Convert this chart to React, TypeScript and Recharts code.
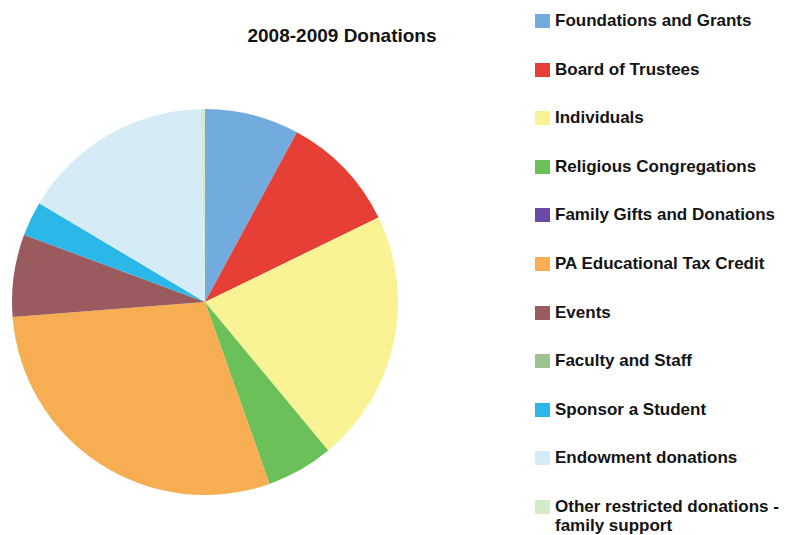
import { PieChart, Pie, Cell, Legend } from 'recharts';

const categories = [
  'Foundations and Grants',
  'Board of Trustees',
  'Individuals',
  'Religious Congregations',
  'Family Gifts and Donations',
  'PA Educational Tax Credit',
  'Events',
  'Faculty and Staff',
  'Sponsor a Student',
  'Endowment donations',
  'Other restricted donations - family support',
];

// share of total donations (%)
const shares = [7.9, 9.9, 21.2, 5.6, 0, 29.2, 6.9, 0, 2.9, 16.1, 0.35];

const colors = [
  '#72acdf',
  '#e63f35',
  '#faf396',
  '#6cc05a',
  '#6a4aa6',
  '#f7ad52',
  '#9a5b5f',
  '#9cc390',
  '#2bb8e8',
  '#d5ecf7',
  '#d3ebc6',
];

const title = '2008-2009 Donations';

const data = categories.map((name, i) => ({ name, value: shares[i] }));

const font = '"Liberation Sans", Arial, sans-serif';

function DonationLegend() {
  return (
    <div style={{ fontFamily: font, fontWeight: 700, fontSize: 17, color: '#141414' }}>
      {categories.map((name, i) => (
        <div
          key={name}
          style={{
            position: 'absolute',
            left: 0,
            top: 11 + i * 48.6,
            display: 'flex',
            alignItems: 'flex-start',
            width: 245,
          }}
        >
          <span
            style={{
              display: 'inline-block',
              width: 15,
              height: 14,
              marginTop: 3,
              marginRight: 5,
              background: colors[i],
              flexShrink: 0,
            }}
          />
          <span style={{ lineHeight: '19px', width: 230 }}>{name}</span>
        </div>
      ))}
    </div>
  );
}

export default function App() {
  return (
    <div style={{ position: 'absolute', left: 0, top: 0, width: 786, height: 535, background: '#fff', overflow: 'hidden' }}>
      <div
        style={{
          position: 'absolute',
          left: 242,
          top: 25,
          width: 200,
          textAlign: 'center',
          fontFamily: font,
          fontWeight: 700,
          fontSize: 19,
          color: '#141414',
        }}
      >
        {title}
      </div>
      <PieChart width={786} height={535} margin={{ top: 0, right: 0, bottom: 0, left: 0 }}>
        <Pie
          data={data}
          dataKey="value"
          nameKey="name"
          cx={205}
          cy={302}
          outerRadius={193}
          startAngle={90}
          endAngle={-270}
          stroke="none"
          isAnimationActive={false}
        >
          {data.map((d, i) => (
            <Cell key={d.name} fill={colors[i]} />
          ))}
        </Pie>
        <Legend
          content={() => <DonationLegend />}
          wrapperStyle={{ position: 'absolute', left: 535, top: 0, width: 250, height: 535 }}
        />
      </PieChart>
    </div>
  );
}
